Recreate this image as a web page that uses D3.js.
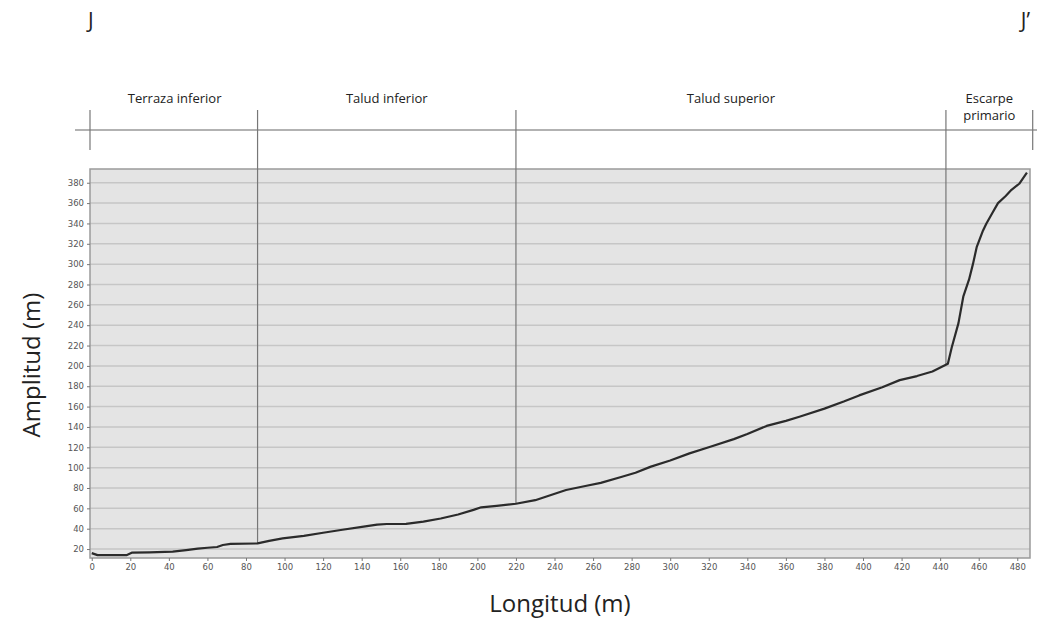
<!DOCTYPE html>
<html>
<meta charset="utf-8">
<script src="https://d3js.org/d3.v7.js"></script>
<style>
    body { margin: 0; background: #fff; }
    text { font-family: "Open Sans", sans-serif; }
</style>
<body>
    <div id="profile"></div>
    <script>

        // profile J - J' (longitud m, amplitud m)
        var longitud = [0, 3, 18, 21, 30, 42, 49, 55, 60, 65, 68, 72, 86, 92, 99, 110, 120, 130, 141, 148, 153, 163, 172, 181, 190, 198, 202, 210, 220,
            230, 246, 256, 264, 275, 282, 290, 300, 310, 320, 333, 340, 350, 360, 367, 380, 390, 398, 410, 419, 428, 436, 444,
            446, 449.5, 452, 455, 457, 459, 462, 464, 467, 470, 474, 477, 481, 485];
        var amplitud = [16, 14, 14, 16.5, 16.8, 17.4, 19, 20.5, 21.3, 22, 24, 25, 25.5, 28, 30.5, 33, 36, 39, 42, 44, 44.6, 44.8, 47, 50, 54, 58.5, 61, 62.5, 64.5,
            68, 78, 82, 85, 91, 95, 101, 107, 114, 120, 128, 133, 141, 146, 150, 158, 165, 171, 179, 186, 190, 194.5, 202,
            218, 242, 268, 285, 300, 317, 332, 340, 350, 360, 367, 373, 379, 390];

        // zones along the profile
        var zonas = [["Terraza inferior"], ["Talud inferior"], ["Talud superior"], ["Escarpe", "primario"]];
        var limites = [0, 86, 220, 443, 488];

        var xTicks = d3.range(0, 481, 20);
        var yTicks = d3.range(20, 381, 20);

        var W = 1037, H = 619;
        var plot = { left: 90, right: 1030, top: 169, bottom: 558 };

        var svg = d3.select("#profile").append("svg")
            .attr("width", W)
            .attr("height", H);

        var x = d3.scaleLinear().domain([-0.9, 486.6]).range([plot.left, plot.right]);
        var y = d3.scaleLinear().domain([11.2, 393.5]).range([plot.bottom, plot.top]);

        // plot background
        svg.append("rect")
            .attr("x", plot.left).attr("y", plot.top)
            .attr("width", plot.right - plot.left)
            .attr("height", plot.bottom - plot.top)
            .style("fill", "#e4e4e4");

        // horizontal grid
        svg.append("g").selectAll("line")
            .data(yTicks)
            .enter().append("line")
            .attr("x1", plot.left).attr("x2", plot.right)
            .attr("y1", function (d) { return y(d) })
            .attr("y2", function (d) { return y(d) })
            .style("stroke", "#c6c6c6")
            .style("stroke-width", 1.5);

        // border
        svg.append("rect")
            .attr("x", plot.left).attr("y", plot.top)
            .attr("width", plot.right - plot.left)
            .attr("height", plot.bottom - plot.top)
            .style("fill", "none")
            .style("stroke", "#9a9a9a")
            .style("stroke-width", 1.5);

        // axes
        var xAxis = svg.append("g")
            .attr("transform", "translate(0," + plot.bottom + ")")
            .call(d3.axisBottom(x).tickValues(xTicks).tickSize(3).tickPadding(3));
        var yAxis = svg.append("g")
            .attr("transform", "translate(" + plot.left + ",0)")
            .call(d3.axisLeft(y).tickValues(yTicks).tickSize(3).tickPadding(3));
        [xAxis, yAxis].forEach(function (a) {
            a.select(".domain").remove();
            a.selectAll(".tick line").style("stroke", "#777");
            a.selectAll("text")
                .style("font-family", "'DejaVu Sans', sans-serif")
                .style("font-size", "8.5px")
                .style("fill", "#555");
        });

        // value along the profile at a given longitud
        function valorEn(l) {
            var i = d3.bisectLeft(longitud, l);
            if (i <= 0) return amplitud[0];
            if (i >= longitud.length) return amplitud[amplitud.length - 1];
            var t = (l - longitud[i - 1]) / (longitud[i] - longitud[i - 1]);
            return amplitud[i - 1] + t * (amplitud[i] - amplitud[i - 1]);
        }

        // header line and zone limits
        var headerY = 130, headerTop = 110, headerBottom = 150;
        svg.append("line")
            .attr("x1", 75).attr("x2", W)
            .attr("y1", headerY).attr("y2", headerY)
            .style("stroke", "#666").style("stroke-width", 1.2);

        svg.append("g").selectAll("line")
            .data(limites)
            .enter().append("line")
            .attr("x1", function (d, i) { return i == 0 ? plot.left : x(d) })
            .attr("x2", function (d, i) { return i == 0 ? plot.left : x(d) })
            .attr("y1", headerTop)
            .attr("y2", function (d, i) {
                if (i == 0 || i == limites.length - 1) return headerBottom;
                return y(valorEn(d));
            })
            .style("stroke", "#777").style("stroke-width", 1.2);

        // zone labels
        svg.append("g").selectAll("text")
            .data(zonas)
            .enter().append("text")
            .attr("x", function (d, i) { return x((limites[i] + limites[i + 1]) / 2) })
            .attr("y", 103)
            .attr("text-anchor", "middle")
            .style("font-size", "13px")
            .style("fill", "#222")
            .each(function (d) {
                var t = d3.select(this);
                var cx = t.attr("x");
                d.forEach(function (s, k) {
                    t.append("tspan").attr("x", cx).attr("dy", k == 0 ? 0 : 17).text(s);
                });
            });

        // profile line
        var pts = longitud.map(function (l, i) { return [l, amplitud[i]] });
        svg.append("path")
            .datum(pts)
            .attr("d", d3.line().x(function (d) { return x(d[0]) }).y(function (d) { return y(d[1]) }))
            .style("fill", "none")
            .style("stroke", "#2b2b2b")
            .style("stroke-width", 2.2)
            .style("stroke-linejoin", "round");

        // J - J'
        svg.append("text").attr("x", 88).attr("y", 28)
            .style("font-size", "21px").style("fill", "#222").text("J");
        svg.append("text").attr("x", 1030).attr("y", 28)
            .attr("text-anchor", "end")
            .style("font-size", "21px").style("fill", "#222").text("J\u2019");

        // axis titles
        svg.append("text")
            .attr("x", 560).attr("y", 612)
            .attr("text-anchor", "middle")
            .style("font-size", "24px").style("fill", "#222")
            .text("Longitud (m)");
        svg.append("text")
            .attr("transform", "translate(40,365) rotate(-90)")
            .attr("text-anchor", "middle")
            .style("font-size", "24px").style("fill", "#222")
            .text("Amplitud (m)");

    </script>
</body>

</html>
